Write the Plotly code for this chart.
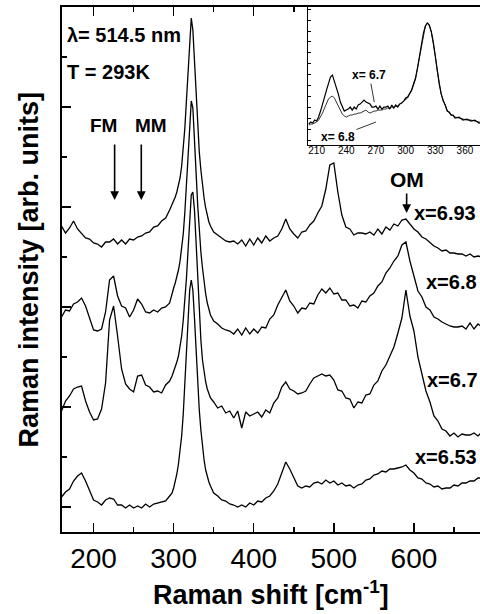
import plotly.graph_objects as go

# Raman shift sampling grid [cm^-1]
shift = list(range(160, 296, 5)) + list(range(298, 347, 2)) + list(range(350, 686, 5))

# Intensities (arb. units, spectra already vertically offset as in the figure)
i_693 = ([281, 274, 279, 286, 278, 274, 269, 268, 264, 263, 260, 265, 265, 268, 263, 267, 263, 268, 267, 270,
          271, 274, 275, 280, 281, 286, 289, 297]
         + [302, 306, 310, 315, 321, 329, 341, 357, 379, 407, 439, 471, 489, 477, 445, 407, 377, 355, 337, 321,
            309, 299, 291, 285, 281]
         + [275, 272, 269, 266, 265, 266, 263, 267, 261, 268, 262, 269, 264, 271, 266, 269, 271, 278, 288, 278,
            273, 269, 275, 276, 282, 286, 294, 301, 318, 342, 344, 315, 292, 280, 278, 272, 274, 274, 273, 275,
            272, 278, 273, 280, 277, 283, 281, 287, 288, 283, 278, 275, 270, 268, 264, 261, 259, 256, 257, 254,
            254, 253, 253, 251, 253, 250, 251, 250])
i_68 = ([190, 197, 196, 203, 205, 209, 201, 188, 177, 176, 178, 195, 227, 231, 211, 201, 199, 190, 197, 208,
         203, 195, 194, 197, 195, 199, 200, 204]
        + [215, 219, 224, 230, 237, 246, 257, 273, 295, 324, 357, 389, 406, 399, 372, 335, 302, 275, 255, 239,
           225, 213, 204, 197, 192]
        + [186, 183, 179, 177, 176, 173, 178, 172, 179, 173, 178, 174, 180, 179, 188, 192, 202, 209, 217, 206,
           201, 194, 199, 198, 204, 203, 212, 218, 214, 219, 213, 214, 207, 207, 201, 202, 199, 206, 205, 211,
           214, 221, 225, 234, 239, 246, 251, 262, 265, 246, 230, 216, 210, 200, 197, 190, 188, 185, 183, 181,
           180, 180, 181, 178, 184, 178, 183, 180])
i_67 = ([96, 106, 111, 118, 120, 121, 106, 95, 87, 88, 98, 124, 187, 201, 171, 138, 123, 118, 115, 131,
         132, 122, 120, 115, 116, 114, 122, 126]
        + [131, 135, 140, 145, 151, 160, 171, 187, 205, 229, 257, 289, 312, 315, 297, 265, 229, 195, 167, 147,
           134, 125, 118, 113, 109]
        + [105, 99, 101, 94, 96, 89, 96, 79, 95, 91, 93, 95, 90, 97, 94, 104, 109, 120, 125, 118,
           116, 113, 114, 116, 123, 129, 131, 133, 131, 132, 127, 117, 116, 109, 108, 99, 105, 104, 112, 113,
           122, 126, 136, 142, 151, 160, 174, 189, 217, 191, 176, 150, 133, 116, 105, 91, 86, 78, 76, 71,
           74, 70, 73, 72, 72, 74, 71, 75])
i_653 = ([10, 15, 18, 26, 31, 34, 26, 16, 7, 5, 2, 7, 9, 8, 2, 2, -1, 2, -1, 1,
          -1, 3, 0, 3, 4, 5, 6, 11]
         + [14, 19, 25, 33, 43, 55, 71, 93, 122, 157, 192, 217, 227, 217, 189, 157, 125, 97, 77, 60,
            47, 37, 30, 25, 21]
         + [14, 11, 7, 6, 3, 2, 0, 2, 0, 4, 2, 6, 5, 9, 11, 16, 23, 34, 45, 38,
            29, 21, 19, 21, 20, 24, 25, 23, 27, 24, 26, 22, 24, 21, 22, 19, 22, 23, 27, 28,
            32, 33, 36, 35, 38, 38, 39, 40, 42, 37, 34, 29, 28, 24, 23, 20, 21, 18, 19, 19,
            22, 21, 24, 24, 26, 26, 29, 29])

# Inset (normalised spectra)
inset_shift = list(range(202, 351, 2)) + list(range(354, 379, 4))
inset_67 = [21, 23, 22, 25, 24, 28, 34, 40, 48, 55, 63, 68, 70, 64, 59, 51, 43, 39, 34, 35,
            36, 38, 35, 38, 36, 40, 41, 43, 45, 43, 42, 41, 38, 38, 39, 36, 39, 36, 38, 38,
            39, 36, 40, 37, 40, 38, 41, 42, 44, 47, 48, 51, 55, 61, 67, 77, 89, 101, 112, 119,
            122, 120, 113, 103, 89, 73, 61, 51, 44, 40, 34, 33, 30, 30, 27,
            28, 25, 26, 24, 25, 22, 23]
inset_68 = [20, 21, 21, 22, 23, 25, 28, 32, 37, 42, 46, 48, 49, 47, 43, 38, 34, 31, 29, 28,
            29, 30, 30, 31, 31, 32, 32, 33, 34, 35, 33, 32, 33, 34, 34, 35, 35, 35, 36, 36,
            37, 37, 38, 38, 39, 39, 41, 42, 44, 46, 47, 51, 54, 60, 66, 77, 88, 101, 111, 119,
            122, 119, 113, 102, 89, 74, 60, 51, 45, 39, 35, 32, 30, 29, 28,
            27, 26, 25, 25, 24, 23, 23]

main_ticks = [200, 300, 400, 500, 600]
inset_ticks = [210, 240, 270, 300, 330, 360]

FONT = "Liberation Sans, Arial, Helvetica, sans-serif"

fig = go.Figure()
for vals in (i_693, i_68, i_67, i_653):
    fig.add_trace(go.Scatter(x=shift, y=vals, mode="lines", xaxis="x", yaxis="y",
                             line=dict(color="black", width=1.3), hoverinfo="skip", showlegend=False))
fig.add_trace(go.Scatter(x=inset_shift, y=inset_67, mode="lines", xaxis="x2", yaxis="y2",
                         line=dict(color="black", width=1.2), hoverinfo="skip", showlegend=False))
fig.add_trace(go.Scatter(x=inset_shift, y=inset_68, mode="lines", xaxis="x2", yaxis="y2",
                         line=dict(color="black", width=0.8), hoverinfo="skip", showlegend=False))

ann = []
def txt(x, y, s, size, xanchor="left", xref="x", yref="y", angle=0):
    ann.append(dict(x=x, y=y, xref=xref, yref=yref, text=s, showarrow=False, xanchor=xanchor,
                    yanchor="middle", textangle=angle,
                    font=dict(size=size, family=FONT, color="black")))

txt(163.8, 472, "<b>λ= 514.5 nm</b>", 20)
txt(163.8, 435, "<b>T = 293K</b>", 20)
txt(213, 382, "<b>FM</b>", 19, xanchor="center")
txt(272, 382, "<b>MM</b>", 19, xanchor="center")
txt(591, 328, "<b>OM</b>", 21, xanchor="center")
txt(597, 294, "<b>x=6.93</b>", 20)
txt(612, 225, "<b>x=6.8</b>", 20)
txt(614, 127, "<b>x=6.7</b>", 20)
txt(599, 50, "<b>x=6.53</b>", 20)

# axis titles
txt(0.5, -0.117, "<b>Raman shift [cm<sup>-1</sup>]</b>", 27, xanchor="center", xref="paper", yref="paper")
txt(-0.079, 0.5, "<b>Raman intensity [arb. units]</b>", 27, xanchor="center", xref="paper", yref="paper",
    angle=-90)

def arrow(x, y0, y1):
    ann.append(dict(x=x, y=y1, ax=x, ay=y0, xref="x", yref="y", axref="x", ayref="y", text="",
                    showarrow=True, arrowhead=2, arrowsize=1.1, arrowwidth=1.6, arrowcolor="black"))
arrow(226.3, 364, 307)
arrow(259.6, 364, 307)
arrow(590.9, 315, 294)

# inset labels with pointer lines
ann.append(dict(x=268.3, y=43, ax=263.3, ay=70, xref="x2", yref="y2", axref="x2", ayref="y2",
                text="<b>x= 6.7</b>", showarrow=True, arrowhead=0, arrowwidth=0.8, arrowcolor="black",
                font=dict(size=12, family=FONT, color="black")))
ann.append(dict(x=270, y=23, ax=231.6, ay=8.5, xref="x2", yref="y2", axref="x2", ayref="y2",
                text="<b>x= 6.8</b>", showarrow=True, arrowhead=0, arrowwidth=0.8, arrowcolor="black",
                font=dict(size=12, family=FONT, color="black")))

fig.update_layout(
    width=480, height=614,
    margin=dict(l=62, r=0, t=7, b=82, autoexpand=False),
    paper_bgcolor="white", plot_bgcolor="white",
    showlegend=False,
    font=dict(family=FONT, color="black"),
    annotations=ann,
    xaxis=dict(range=[160.6, 682.5], domain=[0, 1], anchor="y", automargin=False,
               showline=True, linewidth=2, linecolor="black", mirror="ticks",
               ticks="inside", ticklen=9, tickwidth=1.5, tickcolor="black",
               tickvals=main_ticks, ticktext=[str(t) for t in main_ticks],
               minor=dict(tickvals=[250, 350, 450, 550, 650], ticks="inside", ticklen=5,
                          tickwidth=1.5, tickcolor="black"),
               showgrid=False, zeroline=False,
               tickfont=dict(size=28, family=FONT, color="black")),
    yaxis=dict(range=[-25, 500], domain=[0, 1], anchor="x", automargin=False,
               showline=True, linewidth=2, linecolor="black", mirror=False,
               ticks="inside", ticklen=9, tickwidth=1.5, tickcolor="black",
               tickvals=[0, 100, 200, 300, 400],
               minor=dict(tickvals=[50, 150, 250, 350, 450], ticks="inside", ticklen=5,
                          tickwidth=1.5, tickcolor="black"),
               showticklabels=False, showgrid=False, zeroline=False),
    yaxis3=dict(range=[-25, 500], overlaying="y", side="right", anchor="x", automargin=False,
                showline=False, ticks="inside", ticklen=4, tickwidth=1.5, tickcolor="black",
                tickvals=[0, 100, 200, 300, 400], showticklabels=False,
                showgrid=False, zeroline=False),
    xaxis2=dict(domain=[0.589, 1], anchor="y2", range=[201.5, 375.2], automargin=False,
                showline=True, linewidth=1, linecolor="black", mirror=False,
                ticks="", tickvals=inset_ticks, ticktext=[str(t) for t in inset_ticks],
                ticklabelstandoff=-4,
                tickfont=dict(size=10, family=FONT, color="black"),
                showgrid=False, zeroline=False),
    yaxis2=dict(domain=[0.737, 1], anchor="x2", range=[0, 138], automargin=False,
                showline=True, linewidth=1, linecolor="black", mirror=False,
                ticks="inside", ticklen=3, tickwidth=1, tickcolor="black",
                tick0=5, dtick=10.9, showticklabels=False,
                showgrid=False, zeroline=False),
)

fig.write_html("out.html", config={"displayModeBar": False, "staticPlot": True},
               post_script="document.body.style.margin='0';document.body.style.overflow='hidden';")
